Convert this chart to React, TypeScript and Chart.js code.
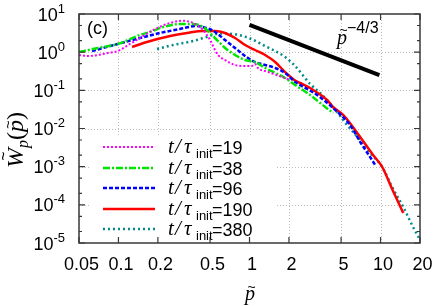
import React, { useEffect, useRef } from "react";
import { Chart, registerables } from "chart.js";

Chart.register(...registerables);

// ---- data ----
const p19 = [0.05, 0.0586, 0.0698, 0.0832, 0.0989, 0.1225, 0.146, 0.184, 0.248, 0.306, 0.371, 0.442, 0.5, 0.546, 0.575, 0.651, 0.776, 0.925, 1.04, 1.1, 1.16, 1.39, 1.77, 2.04];
const w19 = [0.844, 0.794, 0.844, 0.953, 1.07, 1.64, 2.35, 3.81, 5.81, 6.67, 5.81, 3.81, 2.08, 1.14, 0.844, 0.623, 0.461, 0.434, 0.434, 0.49, 0.385, 0.302, 0.224, 0.187];

const p38 = [0.05, 0.0698, 0.0989, 0.146, 0.174, 0.219, 0.295, 0.371, 0.442, 0.5, 0.565, 0.651, 0.776, 0.925, 1.1, 1.315, 1.57, 1.87, 2.23, 2.9, 3.46, 4.34];
const w38 = [1.01, 1.29, 1.64, 2.82, 3.38, 4.56, 5.47, 5.47, 4.56, 3.18, 2.08, 1.29, 0.844, 0.623, 0.552, 0.385, 0.285, 0.211, 0.138, 0.0755, 0.0466, 0.0255];

const p96 = [0.0628, 0.0989, 0.146, 0.2075, 0.295, 0.398, 0.458, 0.5, 0.546, 0.651, 0.776, 0.925, 1.1, 1.315, 1.57, 1.87, 2.23, 2.43, 3.28, 4.34, 5.85, 6.98, 8.32, 9.09];
const w96 = [1.07, 1.64, 2.35, 3.18, 4.05, 4.85, 4.4, 4.0, 3.38, 2.08, 1.29, 0.794, 0.552, 0.461, 0.385, 0.285, 0.165, 0.138, 0.0755, 0.0345, 0.01236, 0.0045, 0.00179, 0.00111];

const p190 = [0.127, 0.165, 0.248, 0.334, 0.442, 0.546, 0.651, 0.776, 0.925, 1.1, 1.315, 1.57, 1.87, 2.23, 2.43, 2.9, 3.06, 3.91, 4.34, 5.18, 6.39, 8.77, 10.3, 12.25, 14.9];
const w190 = [1.37, 1.85, 2.65, 3.18, 3.59, 3.59, 3.18, 2.35, 1.54, 1.14, 0.844, 0.552, 0.3, 0.18, 0.156, 0.115, 0.102, 0.0559, 0.0366, 0.0226, 0.00914, 0.00202, 0.00098, 0.00026, 0.000061];

const p380 = [0.197, 0.261, 0.371, 0.47, 0.594, 0.8, 1.01, 1.315, 1.57, 1.87, 2.23, 2.9, 3.46, 4.34, 5.55, 6.98, 8.62, 10.3, 12.25, 14.9, 17.4, 20];
const w380 = [1.21, 1.54, 1.96, 2.5, 3.08, 2.9, 2.28, 1.45, 1.07, 0.747, 0.434, 0.147, 0.0851, 0.0366, 0.0124, 0.005, 0.00202, 0.00098, 0.000294, 0.000088, 0.0000296, 0.000012];

const slopeP = [1.0, 9.8];
const slopeW = [5.2, 0.25];

const legendLabels = ["19", "38", "96", "190", "380"];
const xTickValues = [0.05, 0.1, 0.2, 0.5, 1, 2, 5, 10, 20];
const xTickLabels = ["0.05", "0.1", "0.2", "0.5", "1", "2", "5", "10", "20"];
const yExponents = [1, 0, -1, -2, -3, -4, -5];
const yMinorMultipliers = [2, 5];

const SANS = '"Liberation Sans", Arial, Helvetica, sans-serif';
const SERIF = '"Liberation Serif", "Times New Roman", serif';

type Seg = { t: string; font: string; dy?: number; tilde?: { up: number; dx?: number; size?: number } };

function drawTilde(ctx: CanvasRenderingContext2D, cx: number, cy: number, size: number) {
  ctx.save();
  ctx.font = `${size}px ${SANS}`;
  const m = ctx.measureText("~");
  const asc = m.actualBoundingBoxAscent || 0;
  const desc = m.actualBoundingBoxDescent || 0;
  ctx.textAlign = "left";
  ctx.textBaseline = "alphabetic";
  ctx.fillText("~", cx - m.width / 2, cy + (asc - desc) / 2);
  ctx.restore();
}

function drawSegs(ctx: CanvasRenderingContext2D, segs: Seg[], x: number, y: number, align: "left" | "right" | "center") {
  ctx.save();
  ctx.textAlign = "left";
  ctx.textBaseline = "alphabetic";
  const widths = segs.map((s) => {
    ctx.font = s.font;
    return ctx.measureText(s.t).width;
  });
  const total = widths.reduce((a, b) => a + b, 0);
  let cx = align === "left" ? x : align === "right" ? x - total : x - total / 2;
  segs.forEach((s, i) => {
    ctx.font = s.font;
    ctx.fillText(s.t, cx, y + (s.dy || 0));
    if (s.tilde) {
      drawTilde(ctx, cx + widths[i] / 2 + (s.tilde.dx || 0), y + (s.dy || 0) - s.tilde.up, s.tilde.size || 14);
    }
    cx += widths[i];
  });
  ctx.restore();
}

const decorPlugin = {
  id: "decor",
  beforeDatasetsDraw(chart: any) {
    const ctx: CanvasRenderingContext2D = chart.ctx;
    const { left, right, top, bottom } = chart.chartArea;
    const xs = chart.scales.x;
    const ys = chart.scales.y;
    ctx.save();
    ctx.strokeStyle = "#bcbcbc";
    ctx.lineWidth = 1;
    ctx.setLineDash([1, 2]);
    xTickValues.forEach((v) => {
      const px = Math.round(xs.getPixelForValue(v)) + 0.5;
      if (px <= left + 1 || px >= right - 1) return;
      ctx.beginPath();
      ctx.moveTo(px, top);
      ctx.lineTo(px, bottom);
      ctx.stroke();
    });
    yExponents.forEach((e) => {
      const py = Math.round(ys.getPixelForValue(Math.pow(10, e))) + 0.5;
      if (py <= top + 1 || py >= bottom - 1) return;
      ctx.beginPath();
      ctx.moveTo(left, py);
      ctx.lineTo(right, py);
      ctx.stroke();
    });
    ctx.setLineDash([]);
    // legend box background
    ctx.fillStyle = "#ffffff";
    ctx.fillRect(90, 136, 186, bottom - 136);
    ctx.restore();
  },
  afterDatasetsDraw(chart: any) {
    const ctx: CanvasRenderingContext2D = chart.ctx;
    const { left, right, top, bottom } = chart.chartArea;
    const xs = chart.scales.x;
    const ys = chart.scales.y;
    ctx.save();
    // frame
    ctx.strokeStyle = "#383838";
    ctx.lineWidth = 1.5;
    ctx.strokeRect(left, top, right - left, bottom - top);
    ctx.lineWidth = 1.2;
    ctx.beginPath();
    xTickValues.forEach((v) => {
      const px = xs.getPixelForValue(v);
      ctx.moveTo(px, bottom);
      ctx.lineTo(px, bottom - 6);
      ctx.moveTo(px, top);
      ctx.lineTo(px, top + 6);
    });
    yExponents.forEach((e) => {
      const py = ys.getPixelForValue(Math.pow(10, e));
      ctx.moveTo(left, py);
      ctx.lineTo(left + 6, py);
      ctx.moveTo(right, py);
      ctx.lineTo(right - 6, py);
      yMinorMultipliers.forEach((m) => {
        const v = m * Math.pow(10, e);
        if (v > 10) return;
        const pm = ys.getPixelForValue(v);
        ctx.moveTo(left, pm);
        ctx.lineTo(left + 3, pm);
        ctx.moveTo(right, pm);
        ctx.lineTo(right - 3, pm);
      });
    });
    ctx.stroke();

    ctx.fillStyle = "#000000";
    // x tick labels
    ctx.font = `18px ${SANS}`;
    ctx.textAlign = "center";
    ctx.textBaseline = "alphabetic";
    xTickValues.forEach((v, i) => {
      ctx.fillText(xTickLabels[i], xs.getPixelForValue(v) + 2.5, 269.5);
    });
    // y tick labels
    yExponents.forEach((e) => {
      const py = ys.getPixelForValue(Math.pow(10, e));
      drawSegs(
        ctx,
        [
          { t: "10", font: `18px ${SANS}` },
          { t: String(e), font: `13px ${SANS}`, dy: -8 },
        ],
        65,
        py + 6.5,
        "right"
      );
    });

    // x title
    drawSegs(ctx, [{ t: "p", font: `italic 20px ${SERIF}`, tilde: { up: 13.5, dx: 1.5, size: 14 } }], 250, 300, "center");

    // y title (rotated)
    ctx.save();
    ctx.translate(23, 140);
    ctx.rotate(-Math.PI / 2);
    drawSegs(
      ctx,
      [
        { t: "W", font: `italic 24px ${SERIF}`, tilde: { up: 20, dx: 2, size: 16 } },
        { t: "p", font: `italic 16px ${SERIF}`, dy: 5 },
        { t: "(", font: `24px ${SERIF}` },
        { t: "p", font: `italic 24px ${SERIF}`, tilde: { up: 15, dx: 1.5, size: 15 } },
        { t: ")", font: `24px ${SERIF}` },
      ],
      0,
      0,
      "center"
    );
    ctx.restore();

    // panel label
    ctx.font = `18px ${SANS}`;
    ctx.textAlign = "left";
    ctx.fillText("(c)", 87, 34);

    // slope label
    drawSegs(
      ctx,
      [
        { t: "p", font: `italic 20px ${SERIF}`, tilde: { up: 14, dx: 1.5, size: 14 } },
        { t: "\u22124/3", font: `16px ${SANS}`, dy: -11 },
      ],
      337,
      44,
      "left"
    );

    // legend
    const rows = [147, 168, 188, 209, 229];
    legendLabels.forEach((lab, i) => {
      const ds = chart.data.datasets[i];
      const y = rows[i];
      ctx.save();
      ctx.strokeStyle = ds.borderColor;
      ctx.lineWidth = ds.borderWidth;
      ctx.setLineDash(ds.borderDash || []);
      ctx.beginPath();
      ctx.moveTo(103, y);
      ctx.lineTo(155, y);
      ctx.stroke();
      ctx.restore();
      ctx.fillStyle = "#000";
      ctx.textAlign = "left";
      ctx.font = `italic 21px ${SERIF}`;
      ctx.fillText("t", 168, y + 6);
      ctx.fillText("/", 175, y + 6);
      ctx.fillText("\u03c4", 184, y + 6);
      ctx.font = `13px ${SANS}`;
      ctx.fillText("init", 196, y + 11);
      ctx.font = `18px ${SANS}`;
      ctx.fillText("=" + lab, 212, y + 6.5);
    });
    ctx.restore();
  },
};

function pts(xs: number[], ys: number[]) {
  return xs.map((x, i) => ({ x, y: ys[i] }));
}

export default function App() {
  const ref = useRef<HTMLCanvasElement>(null);
  useEffect(() => {
    document.body.style.margin = "0";
    const canvas = ref.current!;
    const common = { pointRadius: 0, fill: false, cubicInterpolationMode: "monotone" as const };
    const chart = new Chart(canvas, {
      type: "line",
      data: {
        datasets: [
          { ...common, label: "19", data: pts(p19, w19), borderColor: "#ff00ff", borderWidth: 2, borderDash: [2, 2] },
          { ...common, label: "38", data: pts(p38, w38), borderColor: "#00e600", borderWidth: 2.5, borderDash: [7, 2, 2, 2] },
          { ...common, label: "96", data: pts(p96, w96), borderColor: "#0000ff", borderWidth: 2.5, borderDash: [4, 2] },
          { ...common, label: "190", data: pts(p190, w190), borderColor: "#ff0000", borderWidth: 2.5 },
          { ...common, label: "380", data: pts(p380, w380), borderColor: "#008b8b", borderWidth: 2.5, borderDash: [2, 3] },
          { ...common, label: "slope", data: pts(slopeP, slopeW), borderColor: "#000000", borderWidth: 4, cubicInterpolationMode: "default" as const, tension: 0 },
        ],
      },
      options: {
        animation: false,
        responsive: false,
        maintainAspectRatio: false,
        events: [],
        layout: { padding: { left: 79, right: 16, top: 14, bottom: 63 } },
        plugins: { legend: { display: false }, tooltip: { enabled: false } },
        scales: {
          x: { type: "logarithmic", min: 0.05, max: 20, display: false },
          y: { type: "logarithmic", min: 1e-5, max: 10, display: false },
        },
      },
      plugins: [decorPlugin],
    });
    return () => chart.destroy();
  }, []);
  return (
    <div style={{ width: 436, height: 306 }}>
      <canvas ref={ref} width={436} height={306} style={{ display: "block", width: 436, height: 306 }} />
    </div>
  );
}
